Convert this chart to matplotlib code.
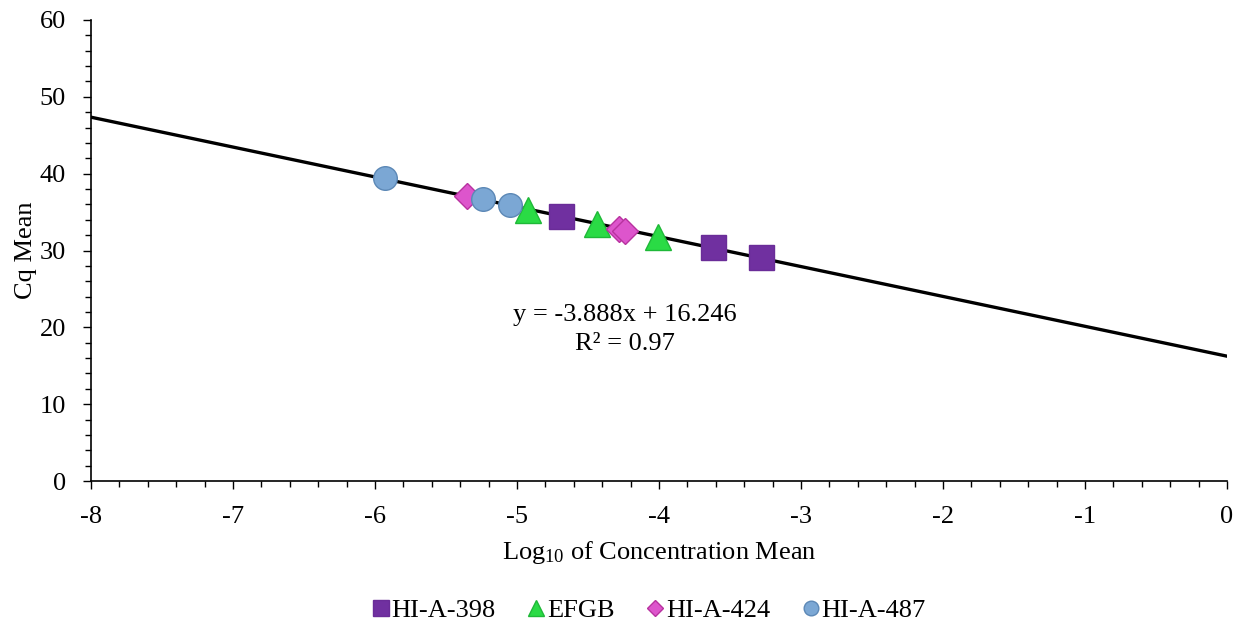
import matplotlib
matplotlib.use("Agg")
import matplotlib.pyplot as plt
import numpy as np
from matplotlib.ticker import MultipleLocator, FuncFormatter

plt.rcParams['font.family'] = ['Liberation Serif', 'DejaVu Serif']
plt.rcParams['mathtext.fontset'] = 'custom'
plt.rcParams['mathtext.rm'] = 'Liberation Serif'
plt.rcParams['mathtext.it'] = 'Liberation Serif:italic'
plt.rcParams['axes.unicode_minus'] = False

# Data
hi398_x = [-4.69, -3.62, -3.28]
hi398_y = [34.5, 30.4, 29.1]
efgb_x = [-4.92, -4.44, -4.01]
efgb_y = [35.3, 33.4, 31.7]
hi424_x = [-5.35, -4.28, -4.24]
hi424_y = [37.1, 32.8, 32.5]
hi487_x = [-5.93, -5.24, -5.05]
hi487_y = [39.4, 36.7, 35.9]

slope = -3.888
intercept = 16.246
r2 = 0.97

FS = 19

fig = plt.figure(figsize=(12.43, 6.28), dpi=100)
ax = fig.add_axes([91/1243, 1-481/628, (1227-91)/1243, (481-20)/628])

xl = np.array([-8.0, 0.0])
ax.plot(xl, slope*xl + intercept, color='black', lw=2.4, zorder=2)

ax.plot(hi398_x, hi398_y, 's', ms=18, mfc='#7030A0', mec='#6a2c98', label='HI-A-398', zorder=3)
ax.plot(efgb_x, efgb_y, '^', ms=19, mfc='#2ADB45', mec='#1fb838', label='EFGB', zorder=3)
ax.plot(hi424_x, hi424_y, 'D', ms=13, mfc='#DD55CC', mec='#b8329f', label='HI-A-424', zorder=3)
ax.plot(hi487_x, hi487_y, 'o', ms=17, mfc='#7BA7D4', mec='#5c88b6', label='HI-A-487', zorder=3)

ax.text(-4.24, 21.6, f"y = {slope}x + {intercept}", ha='center', va='center', fontsize=FS)
ax.text(-4.24, 17.8, f"R² = {r2}", ha='center', va='center', fontsize=FS)

ax.set_xlim(-8, 0)
ax.set_ylim(0, 60)
ax.xaxis.set_major_locator(MultipleLocator(1))
ax.xaxis.set_minor_locator(MultipleLocator(0.2))
ax.yaxis.set_major_locator(MultipleLocator(10))
ax.yaxis.set_minor_locator(MultipleLocator(2))
ax.xaxis.set_major_formatter(FuncFormatter(lambda v, p: f"{v:.0f}".replace('−', '-')))
ax.tick_params(which='major', direction='out', length=6, width=1.0, labelsize=FS)
ax.tick_params(axis='x', which='major', pad=12)
ax.tick_params(axis='y', which='major', pad=12)
ax.tick_params(which='minor', direction='out', length=4, width=1.0)
for s in ['top', 'right']:
    ax.spines[s].set_visible(False)
for s in ['left', 'bottom']:
    ax.spines[s].set_linewidth(1.2)

ax.set_xlabel("Log$_{10}$ of Concentration Mean", fontsize=FS, labelpad=8)
ax.set_ylabel("Cq Mean", fontsize=FS, labelpad=2)

handles, labels = ax.get_legend_handles_labels()
leg = fig.legend(handles, labels, loc='center', bbox_to_anchor=(650/1243, 1-610/628),
                 ncol=4, frameon=False, fontsize=FS, markerscale=0.62,
                 handlelength=0.5, handletextpad=0.15, columnspacing=1.3)

fig.savefig("out.png", dpi=100)
